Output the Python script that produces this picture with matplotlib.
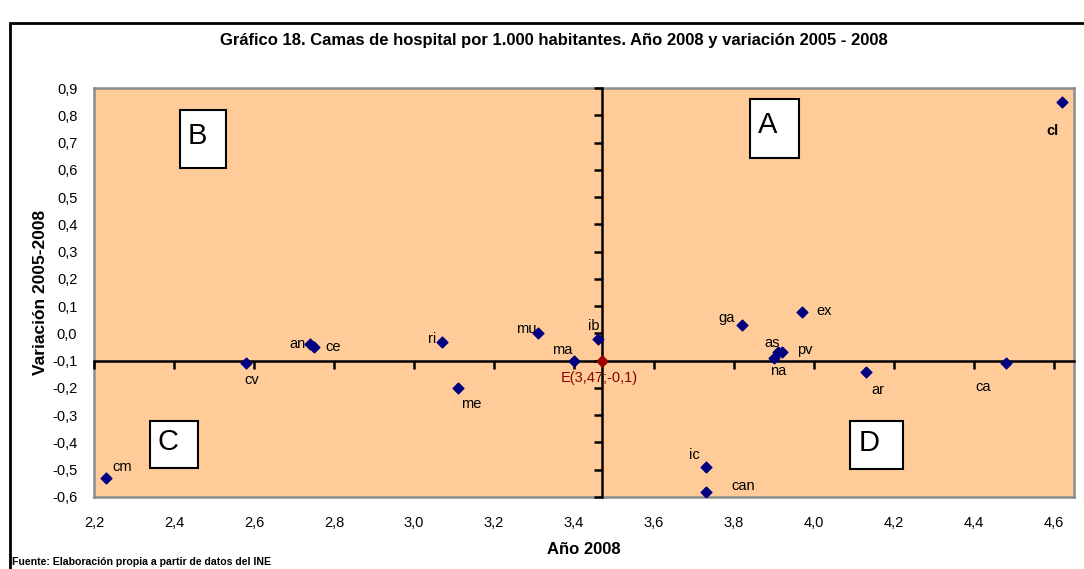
import matplotlib.pyplot as plt
from matplotlib.patches import Rectangle

plt.rcParams['font.family'] = ['Liberation Sans', 'DejaVu Sans']

# data
regiones = ['cm', 'cv', 'an', 'ce', 'ri', 'me', 'mu', 'ma', 'ib', 'ic',
            'can', 'ga', 'as', 'pv', 'na', 'ex', 'ar', 'ca', 'cl']
camas_2008 = [2.23, 2.58, 2.74, 2.75, 3.07, 3.11, 3.31, 3.40, 3.46, 3.73,
              3.73, 3.82, 3.91, 3.92, 3.90, 3.97, 4.13, 4.48, 4.62]
variacion = [-0.53, -0.11, -0.04, -0.05, -0.03, -0.20, 0.00, -0.10, -0.02, -0.49,
             -0.58, 0.03, -0.07, -0.07, -0.09, 0.08, -0.14, -0.11, 0.85]
media_x = 3.47
media_y = -0.1
x_ticks = [2.2, 2.4, 2.6, 2.8, 3.0, 3.2, 3.4, 3.6, 3.8, 4.0, 4.2, 4.4, 4.6]
y_ticks = [-0.6, -0.5, -0.4, -0.3, -0.2, -0.1, 0.0, 0.1, 0.2, 0.3, 0.4, 0.5, 0.6, 0.7, 0.8, 0.9]

# label placement (pixel offsets, horizontal alignment)
offsets = {
    'cm': (16, 11, 'center'), 'cv': (6, -17, 'center'), 'an': (-4, 0, 'right'),
    'ce': (11, 0, 'left'), 'ri': (-6, 3, 'right'), 'me': (13, -16, 'center'),
    'mu': (-12, 4, 'center'), 'ma': (-12, 11, 'center'), 'ib': (-4, 13, 'center'),
    'ic': (-12, 12, 'center'), 'can': (37, 6, 'center'), 'ga': (-15, 7, 'center'),
    'as': (-6, 9, 'center'), 'pv': (23, 2, 'center'), 'na': (4, -13, 'center'),
    'ex': (22, 1, 'center'), 'ar': (12, -18, 'center'), 'ca': (-23, -24, 'center'),
    'cl': (-10, -29, 'center'),
}

fig = plt.figure(figsize=(10.84, 5.69), dpi=100)
fig.patches.append(Rectangle((10 / 1084, -0.1), 1.2, 1 - 23 / 569 + 0.1,
                             transform=fig.transFigure, fill=False,
                             edgecolor='black', linewidth=2))

pos = [94 / 1084, 1 - 497 / 569, 980 / 1084, 409 / 569]
ax = fig.add_axes(pos)
ax.set_facecolor('#FFCC99')
ax.set_xlim(2.2, 4.65)
ax.set_ylim(-0.6, 0.9)
ax.set_xticks(x_ticks)
ax.set_yticks(y_ticks)
ax.set_xticklabels([f'{v:.1f}'.replace('.', ',') for v in x_ticks], fontsize=10.5)
ax.set_yticklabels([f'{v:.1f}'.replace('.', ',').replace('-0,0', '0,0') for v in y_ticks], fontsize=10.5)
ax.tick_params(axis='x', length=0, pad=14)
ax.tick_params(axis='y', length=0, pad=12)
for s in ax.spines.values():
    s.set_color('#8c8c8c')
    s.set_linewidth(1.8)
ax.set_xlabel('Año 2008', fontsize=12, fontweight='bold', labelpad=8)
ax.set_ylabel('Variación 2005-2008', fontsize=12.5, fontweight='bold', labelpad=3)

# crossing axes at the mean point
ax2 = fig.add_axes(pos, sharex=ax, sharey=ax)
ax2.patch.set_visible(False)
for side in ['top', 'right']:
    ax2.spines[side].set_visible(False)
ax2.spines['bottom'].set_position(('data', media_y))
ax2.spines['left'].set_position(('data', media_x))
for side in ['bottom', 'left']:
    ax2.spines[side].set_linewidth(1.8)
    ax2.spines[side].set_color('black')
ax2.tick_params(axis='both', direction='out', length=6, width=1.8,
                labelbottom=False, labelleft=False)

ax2.scatter(camas_2008, variacion, marker='D', s=30, color='#000080', zorder=5)
ax2.scatter([media_x], [media_y], marker='D', s=32, color='#990000', zorder=6)

for name, xv, yv in zip(regiones, camas_2008, variacion):
    dx, dy, ha = offsets[name]
    ax2.annotate(name, (xv, yv), xytext=(dx, dy), textcoords='offset pixels',
                 ha=ha, va='center', fontsize=10.5,
                 fontweight='bold' if name == 'cl' else 'normal')
ax2.annotate(f'E({media_x:.2f};{media_y:.1f})'.replace('.', ','), (media_x, media_y),
             xytext=(-3, -17), textcoords='offset pixels', ha='center', va='center',
             fontsize=10.5, color='#8B0000')

# quadrant boxes
boxes = {'A': (0.669, 0.830, 0.050, 0.144), 'B': (0.0878, 0.804, 0.047, 0.142),
         'C': (0.057, 0.071, 0.049, 0.115), 'D': (0.771, 0.068, 0.054, 0.117)}
for letter, (bx, by, bw, bh) in boxes.items():
    ax2.add_patch(Rectangle((bx, by), bw, bh, transform=ax2.transAxes,
                            facecolor='white', edgecolor='black', linewidth=1.5, zorder=7))
    ax2.text(bx + bw * 0.37, by + bh * 0.55, letter, transform=ax2.transAxes,
             ha='center', va='center', fontsize=21, zorder=8)

fig.text(554 / 1084, 1 - 41 / 569, 'Gráfico 18. Camas de hospital por 1.000 habitantes. Año 2008 y variación 2005 - 2008',
         ha='center', va='center', fontsize=12, fontweight='bold')
fig.text(12 / 1084, 1 - 562 / 569, 'Fuente: Elaboración propia a partir de datos del INE',
         ha='left', va='center', fontsize=7.6, fontweight='bold')

fig.savefig('out.png', dpi=100)
